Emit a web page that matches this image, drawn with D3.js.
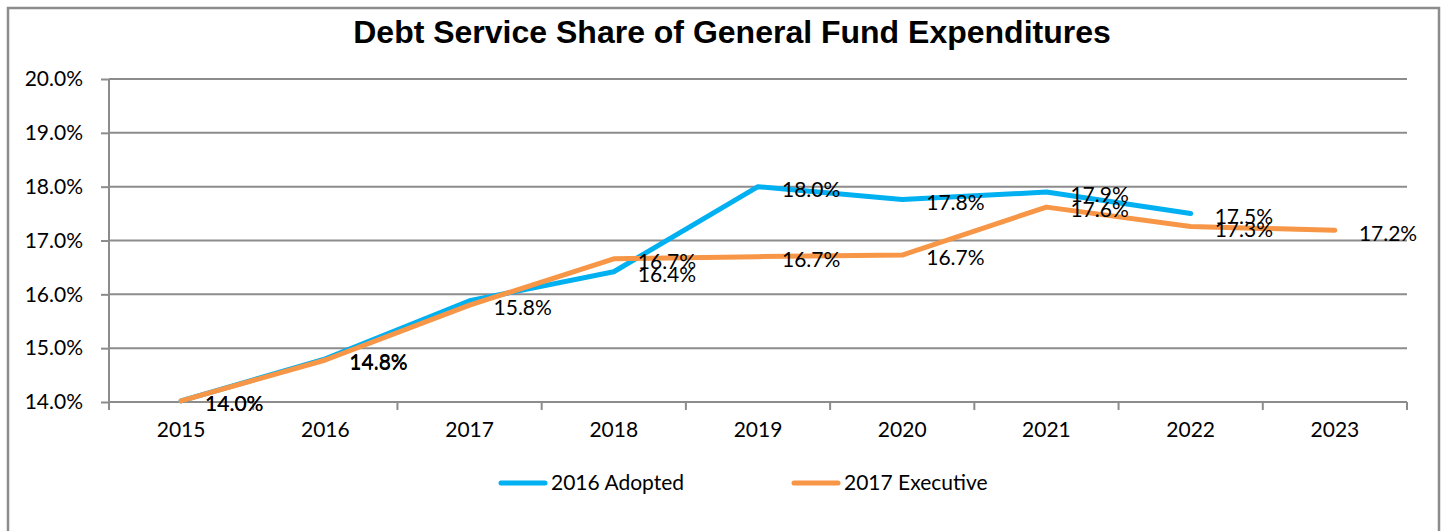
<!DOCTYPE html>
<html>
<head>
<meta charset="utf-8">
<script src="https://cdn.jsdelivr.net/npm/d3@7"></script>
<style>
  body { margin: 0; background: #fff; }
  svg { display: block; }
  .tick text { font-family: Lato, "Open Sans", sans-serif; font-size: 21px; fill: #000; }
</style>
</head>
<body>
<div id="chart"></div>
<script>
// data
const years = ['2015', '2016', '2017', '2018', '2019', '2020', '2021', '2022', '2023'];
const adopted2016 = [14.02, 14.8, 15.88, 16.42, 18.0, 17.76, 17.9, 17.5, null];
const executive2017 = [14.02, 14.78, 15.8, 16.66, 16.7, 16.73, 17.62, 17.26, 17.19];
const adoptedLabels = ['14.0%', '14.8%', null, '16.4%', '18.0%', '17.8%', '17.9%', '17.5%', null];
const executiveLabels = ['14.0%', '14.8%', '15.8%', '16.7%', '16.7%', '16.7%', '17.6%', '17.3%', '17.2%'];
const yTicks = [14, 15, 16, 17, 18, 19, 20];

const series = [
  { name: '2016 Adopted', values: adopted2016, labels: adoptedLabels, color: '#00b0f0' },
  { name: '2017 Executive', values: executive2017, labels: executiveLabels, color: '#f79646' },
];

const WIDTH = 1448;
const HEIGHT = 531;
const MARGIN_LEFT = 109;
const MARGIN_RIGHT = 41;
const MARGIN_TOP = 79;
const PLOT_BOTTOM = 402;
const FONT = 'Lato, "Open Sans", sans-serif';
const FONT_SIZE = 21;

const $svg = d3.select('#chart').append('svg')
  .attr('width', WIDTH)
  .attr('height', HEIGHT);

// outer frame
$svg.append('path')
  .attr('d', `M8,${HEIGHT + 5} V8 H1439 V${HEIGHT + 5}`)
  .attr('fill', 'none')
  .attr('stroke', '#8c8c8c')
  .attr('stroke-width', 2.5);

$svg.append('text')
  .attr('x', 732)
  .attr('y', 43)
  .attr('text-anchor', 'middle')
  .style('font-family', '"Liberation Sans", Arial, sans-serif')
  .style('font-weight', 'bold')
  .style('font-size', '32px')
  .text('Debt Service Share of General Fund Expenditures');

// scales
const scaleX = d3.scaleBand().domain(years).range([MARGIN_LEFT, WIDTH - MARGIN_RIGHT]);
const scaleY = d3.scaleLinear().domain([14, 20]).range([PLOT_BOTTOM, MARGIN_TOP]);
const cx = d => scaleX(d) + scaleX.bandwidth() / 2;

// gridlines
$svg.append('g')
  .selectAll('line')
  .data(yTicks)
  .join('line')
  .attr('x1', MARGIN_LEFT)
  .attr('x2', WIDTH - MARGIN_RIGHT)
  .attr('y1', d => scaleY(d))
  .attr('y2', d => scaleY(d))
  .attr('stroke', '#8c8c8c')
  .attr('stroke-width', 2);

// y axis
const $yAxis = $svg.append('g')
  .attr('transform', `translate(${MARGIN_LEFT},0)`)
  .call(d3.axisLeft(scaleY).tickValues(yTicks).tickSize(8).tickPadding(18)
    .tickFormat(d => d3.format('.1f')(d) + '%'));
$yAxis.selectAll('line, path').attr('stroke', '#8c8c8c').attr('stroke-width', 2);
$yAxis.select('.domain').attr('d', `M0,${MARGIN_TOP}V${PLOT_BOTTOM + 8}`);

// x axis
const $xAxis = $svg.append('g')
  .attr('transform', `translate(0,${PLOT_BOTTOM})`)
  .call(d3.axisBottom(scaleX).tickSize(0).tickPadding(24));
$xAxis.select('.domain').remove();
$xAxis.selectAll('.tick text').attr('dy', '0.5em');
$svg.append('g')
  .selectAll('line')
  .data(years.slice(1).concat(['end']))
  .join('line')
  .attr('x1', d => d === 'end' ? WIDTH - MARGIN_RIGHT : scaleX(d))
  .attr('x2', d => d === 'end' ? WIDTH - MARGIN_RIGHT : scaleX(d))
  .attr('y1', PLOT_BOTTOM)
  .attr('y2', PLOT_BOTTOM + 8)
  .attr('stroke', '#8c8c8c')
  .attr('stroke-width', 2);

// lines
const line = d3.line()
  .defined(d => d.v != null)
  .x(d => cx(d.year))
  .y(d => scaleY(d.v));

series.forEach(s => {
  const pts = years.map((year, i) => ({ year, v: s.values[i], label: s.labels[i] }));
  $svg.append('path')
    .datum(pts)
    .attr('d', line)
    .attr('fill', 'none')
    .attr('stroke', s.color)
    .attr('stroke-width', 5)
    .attr('stroke-linejoin', 'round')
    .attr('stroke-linecap', 'round');
  s.pts = pts;
});

// data labels, drawn on top of both lines
series.forEach(s => {
  $svg.append('g')
    .selectAll('text')
    .data(s.pts.filter(d => d.v != null && d.label))
    .join('text')
    .attr('x', d => cx(d.year) + 24)
    .attr('y', d => scaleY(d.v) + 3)
    .attr('dy', '0.35em')
    .style('font-family', FONT)
    .style('font-size', `${FONT_SIZE}px`)
    .text(d => d.label);
});

// legend
const $legend = $svg.append('g').attr('transform', `translate(0,483)`);
const legendX = [499, 792];
series.forEach((s, i) => {
  $legend.append('line')
    .attr('x1', legendX[i] + 2)
    .attr('x2', legendX[i] + 46)
    .attr('stroke', s.color)
    .attr('stroke-width', 5)
    .attr('stroke-linecap', 'round');
  $legend.append('text')
    .attr('x', legendX[i] + 52)
    .attr('dy', '0.35em')
    .style('font-family', FONT)
    .style('font-size', `${FONT_SIZE}px`)
    .text(s.name);
});
</script>
</body>
</html>
